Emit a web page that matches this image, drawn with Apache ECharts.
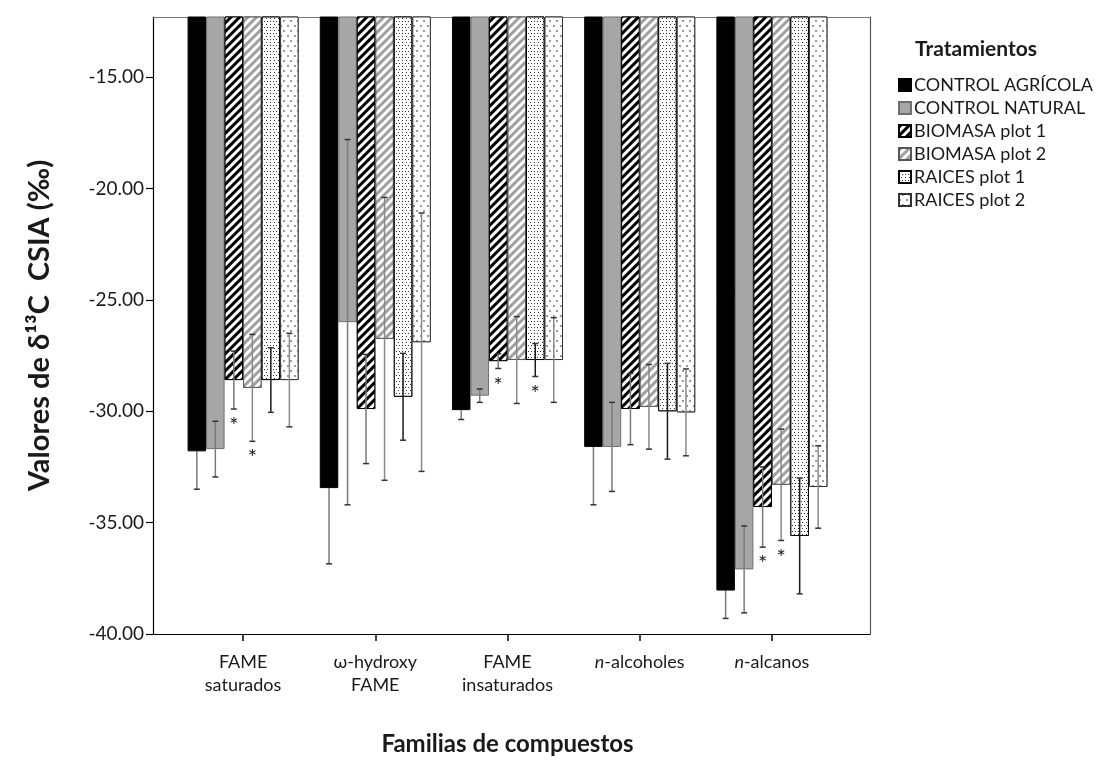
<!DOCTYPE html>
<html>
<head>
<meta charset="utf-8">
<script src="https://cdn.jsdelivr.net/npm/echarts@6/dist/echarts.min.js"></script>
<style>
  html, body { margin: 0; padding: 0; background: #fff; }
  #chart { width: 1104px; height: 768px; }
</style>
</head>
<body>
<div id="chart"></div>
<script>
// Compound families (x categories)
const categories = ['FAME\nsaturados', 'ω-hydroxy\nFAME', 'FAME\ninsaturados', 'n-alcoholes', 'n-alcanos'];

// Treatments
const treatments = ['CONTROL AGRÍCOLA', 'CONTROL NATURAL', 'BIOMASA plot 1', 'BIOMASA plot 2', 'RAICES plot 1', 'RAICES plot 2'];

// Mean δ13C values (‰) per treatment, one value per compound family
const controlAgricola = [-31.8, -33.45, -29.95, -31.6, -38.05];
const controlNatural  = [-31.7, -26.0, -29.3, -31.6, -37.1];
const biomasaPlot1    = [-28.6, -29.9, -27.75, -29.9, -34.3];
const biomasaPlot2    = [-28.95, -26.75, -27.7, -29.8, -33.3];
const raicesPlot1     = [-28.6, -29.35, -27.7, -30.0, -35.6];
const raicesPlot2     = [-28.6, -26.9, -27.7, -30.05, -33.4];

// Standard deviations (error bars)
const errAgricola = [1.7, 3.4, 0.42, 2.6, 1.25];
const errNatural  = [1.25, 8.2, 0.3, 2.0, 1.95];
const errBio1     = [1.3, 2.45, 0.33, 1.6, 1.8];
const errBio2     = [2.4, 6.35, 1.95, 1.9, 2.5];
const errRai1     = [1.45, 1.95, 0.74, 2.15, 2.6];
const errRai2     = [2.1, 5.8, 1.9, 1.95, 1.85];

// Significant differences (asterisk under the error bar)
const sigAgricola = [0, 0, 0, 0, 0];
const sigNatural  = [0, 0, 0, 0, 0];
const sigBio1     = [1, 0, 1, 0, 1];
const sigBio2     = [1, 0, 0, 0, 1];
const sigRai1     = [0, 0, 1, 0, 0];
const sigRai2     = [0, 0, 0, 0, 0];

// Y axis tick values
const yTicks = [-40, -35, -30, -25, -20, -15];
const yMin = -40;
const yMax = -12.3;

const means = [controlAgricola, controlNatural, biomasaPlot1, biomasaPlot2, raicesPlot1, raicesPlot2];
const errs  = [errAgricola, errNatural, errBio1, errBio2, errRai1, errRai2];
const sigs  = [sigAgricola, sigNatural, sigBio1, sigBio2, sigRai1, sigRai2];

const FONT = 'Lato';
const TEXT = '#1a1a1a';
const CAT_GAP = 0.16;

// Fill styles for each treatment
const styles = [
  { color: '#000000', borderColor: '#000000', borderWidth: 1 },
  { color: '#a6a6a6', borderColor: '#6f6f6f', borderWidth: 1 },
  { color: '#ffffff', borderColor: '#000000', borderWidth: 1,
    decal: { symbol: 'rect', symbolSize: 1, color: '#000000', backgroundColor: '#ffffff',
             dashArrayX: [1, 0], dashArrayY: [2.6, 2.8], rotation: -Math.PI / 4 } },
  { color: '#ffffff', borderColor: '#555555', borderWidth: 1,
    decal: { symbol: 'rect', symbolSize: 1, color: '#a0a0a0', backgroundColor: '#ffffff',
             dashArrayX: [1, 0], dashArrayY: [2.6, 2.8], rotation: -Math.PI / 4 } },
  { color: '#ffffff', borderColor: '#000000', borderWidth: 1,
    decal: { symbol: 'rect', symbolSize: 1, color: '#333333', backgroundColor: '#ffffff',
             dashArrayX: [[1, 2], [0, 1.5, 1, 0.5]], dashArrayY: [1, 1.4], rotation: 0 } },
  { color: '#ffffff', borderColor: '#333333', borderWidth: 1,
    decal: { symbol: 'rect', symbolSize: 1, color: '#9a9a9a', backgroundColor: '#ffffff',
             dashArrayX: [[1.3, 4.7], [0, 3, 1.3, 1.7]], dashArrayY: [1.3, 2.2], rotation: 0 } }
];
// error bar colours: part inside the bar / part below the bar
const errUpperColors = ['#000000', '#7a7a7a', '#7a7a7a', '#8a8a8a', '#1a1a1a', '#8a8a8a'];
const errLowerColors = ['#7a7a7a', '#7a7a7a', '#7a7a7a', '#8a8a8a', '#1a1a1a', '#8a8a8a'];

const barSeries = treatments.map((name, s) => ({
  name: name,
  type: 'bar',
  xAxisIndex: 0,
  yAxisIndex: 0,
  data: means[s],
  barGap: '0%',
  barCategoryGap: (CAT_GAP * 100) + '%',
  itemStyle: styles[s],
  emphasis: { disabled: true },
  z: 2
}));

// Error bar records: [category, treatment, mean, sd, significant]
const errData = [];
means.forEach((arr, s) => arr.forEach((m, c) => errData.push([c, s, m, errs[s][c], sigs[s][c]])));

const errSeries = {
  type: 'custom',
  xAxisIndex: 0,
  yAxisIndex: 0,
  data: errData,
  encode: { x: 0, y: 2 },
  z: 5,
  silent: true,
  renderItem: function (params, api) {
    const c = api.value(0), s = api.value(1), m = api.value(2), e = api.value(3), sig = api.value(4);
    const band = api.size([1, 0])[0];
    const gw = band * (1 - CAT_GAP);
    const bw = gw / treatments.length;
    const cx = api.coord([c, m])[0] - gw / 2 + (s + 0.5) * bw;
    const yMid = api.coord([c, m])[1];
    const yTop = api.coord([c, m + e])[1];
    const yBot = api.coord([c, m - e])[1];
    const capW = 3;
    const capStyle = { stroke: '#333333', lineWidth: 1.5 };
    const children = [
      { type: 'line', shape: { x1: cx, y1: yTop, x2: cx, y2: yMid }, style: { stroke: errUpperColors[s], lineWidth: 1.5 } },
      { type: 'line', shape: { x1: cx, y1: yMid, x2: cx, y2: yBot }, style: { stroke: errLowerColors[s], lineWidth: 1.5 } },
      { type: 'line', shape: { x1: cx - capW, y1: yTop, x2: cx + capW, y2: yTop }, style: s === 0 ? { stroke: '#000', lineWidth: 1.5 } : capStyle },
      { type: 'line', shape: { x1: cx - capW, y1: yBot, x2: cx + capW, y2: yBot }, style: capStyle }
    ];
    if (sig) {
      children.push({
        type: 'text',
        style: { text: '*', x: cx, y: yBot + 6, align: 'center', verticalAlign: 'top',
                 fill: '#222', font: '22px ' + FONT }
      });
    }
    return { type: 'group', children: children };
  }
};

const chart = echarts.init(document.getElementById('chart'), null, { renderer: 'canvas' });
chart.setOption({
  animation: false,
  backgroundColor: '#ffffff',
  textStyle: { fontFamily: FONT },
  title: {
    text: 'Tratamientos',
    left: 910,
    top: 34,
    textStyle: { fontFamily: FONT, fontWeight: 'bold', fontSize: 21, color: TEXT }
  },
  legend: {
    orient: 'vertical',
    left: 893,
    top: 71,
    itemWidth: 12,
    itemHeight: 12,
    itemGap: 5,
    icon: 'rect',
    selectedMode: false,
    textStyle: { fontFamily: FONT, fontSize: 18, color: TEXT, padding: [0, 0, 0, -2] },
    data: treatments
  },
  grid: [
    // bar area: category bands
    { left: 177, right: 266, top: 17, bottom: 134 },
    // frame with the value axis
    { left: 153, right: 234, top: 17, bottom: 134 }
  ],
  xAxis: [
    {
      type: 'category',
      gridIndex: 0,
      data: categories,
      axisLine: { show: false },
      axisTick: { show: true, alignWithLabel: true, length: 7, lineStyle: { color: '#000', width: 1.5 } },
      axisLabel: {
        interval: 0,
        color: TEXT,
        fontFamily: FONT,
        fontSize: 18,
        lineHeight: 23,
        margin: 17,
        formatter: function (v) {
          return v.replace(/^n-/, '{i|n}-');
        },
        rich: { i: { fontStyle: 'italic', fontFamily: FONT, fontSize: 18, color: TEXT } }
      },
      name: 'Familias de compuestos',
      nameLocation: 'middle',
      nameGap: 98,
      nameTextStyle: { fontFamily: FONT, fontWeight: 'bold', fontSize: 24, color: TEXT }
    },
    {
      type: 'category', gridIndex: 1, position: 'bottom', data: [''],
      axisLine: { show: true, lineStyle: { color: '#000', width: 1.2 } },
      axisTick: { show: false }, axisLabel: { show: false }
    },
    {
      type: 'category', gridIndex: 1, position: 'top', data: [''],
      axisLine: { show: true, lineStyle: { color: '#777', width: 1.2 } },
      axisTick: { show: false }, axisLabel: { show: false }
    }
  ],
  yAxis: [
    {
      type: 'value', gridIndex: 0, min: yMin, max: yMax,
      axisLine: { show: false }, axisTick: { show: false }, axisLabel: { show: false },
      splitLine: { show: false }
    },
    {
      type: 'value', gridIndex: 1, position: 'left', min: yMin, max: yMax, interval: 5,
      axisLine: { show: true, lineStyle: { color: '#000', width: 1.2 } },
      axisTick: { show: true, length: 7, customValues: yTicks, lineStyle: { color: '#000', width: 1.2 } },
      axisLabel: {
        customValues: yTicks,
        color: TEXT, fontFamily: FONT, fontSize: 19, margin: 9,
        formatter: function (v) { return v.toFixed(2); }
      },
      splitLine: { show: false },
      name: 'Valores de δ¹³C  CSIA (‰)',
      nameLocation: 'middle',
      nameGap: 99,
      nameRotate: 90,
      nameTextStyle: { fontFamily: FONT, fontWeight: 'bold', fontSize: 29, color: TEXT }
    },
    {
      type: 'value', gridIndex: 1, position: 'right', min: yMin, max: yMax,
      axisLine: { show: true, lineStyle: { color: '#555', width: 1.2 } },
      axisTick: { show: false }, axisLabel: { show: false }, splitLine: { show: false }
    }
  ],
  series: barSeries.concat([errSeries])
});
</script>
</body>
</html>
